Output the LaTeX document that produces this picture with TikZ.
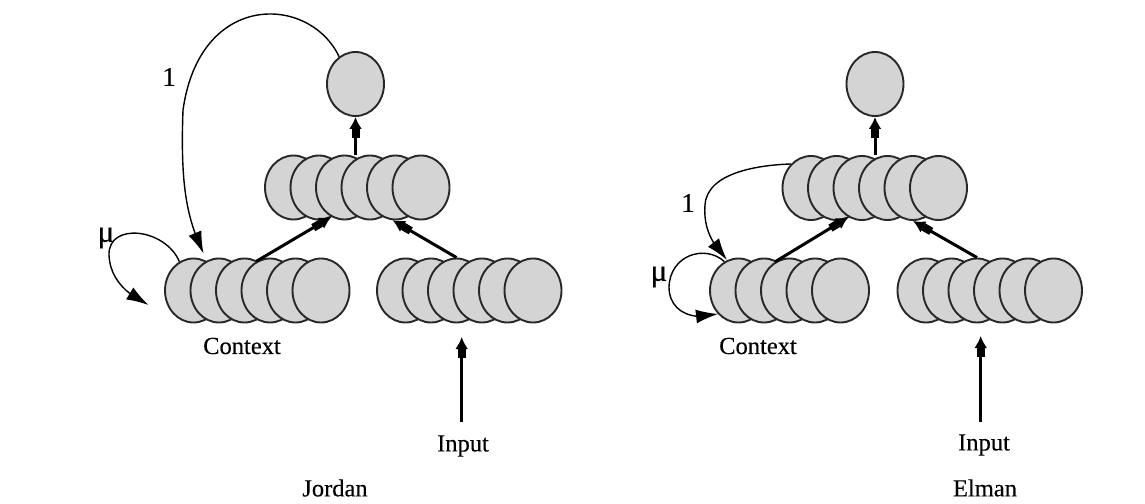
\documentclass[tikz,border=0pt]{standalone}
\usepackage{fontspec}
\setmainfont{Liberation Serif}
\newfontfamily\lblfont[FakeBold=0.3]{Liberation Serif}
\usetikzlibrary{arrows.meta,shapes.geometric,bending}
\definecolor{cellfill}{RGB}{212,212,212}
\definecolor{cellline}{RGB}{40,40,40}
\tikzset{
  cell/.style={ellipse,draw=cellline,fill=cellfill,line width=1.9pt,minimum width=57pt,minimum height=64pt,inner sep=0pt},
  lbl/.style={font=\lblfont\fontsize{24.5}{28}\selectfont,inner sep=0pt},
  numlbl/.style={font=\lblfont\fontsize{27}{30}\selectfont,inner sep=0pt},
  mulbl/.style={font=\lblfont\fontsize{31}{34}\selectfont,inner sep=0pt},
  thickarr/.style={draw=black,line width=3pt,-{Rectangle[length=9pt,width=8pt] Latex[length=12pt,width=13pt]}},
  thinarr/.style={draw=black,line width=1.4pt,-{Latex[length=22pt,width=14pt]}},
}
\begin{document}
\begin{tikzpicture}[x=1pt,y=-1pt]
\useasboundingbox (0,0) rectangle (1145,503);
% ---------------- Jordan ----------------
\node[cell] (jo) at (355.5,84) {};
\foreach \i in {1,...,6} \node[cell] (jh\i) at ({293.5+25.5*(\i-1)},187.5) {};
\foreach \i in {1,...,6} \node[cell] (jc\i) at ({193.5+25.5*(\i-1)},290.5) {};
\foreach \i in {1,...,6} \node[cell] (ji\i) at ({405.5+25.5*(\i-1)},290.5) {};
\node[lbl] (jctx) at (242,346) {Context};
\node[lbl] (jin) at (463,446) {Input};
\node[lbl] (jname) at (335,488) {Jordan};
\node[numlbl] (jone) at (169,77) {1};
\node[mulbl] (jmu) at (106,238) {μ};
\coordinate (jintail) at (461.7,421.7);
\coordinate (jintip) at (461.7,337);
\coordinate (jonetip) at (203.5,253.5);
\coordinate (jmutip) at (148.5,305);
\draw[thickarr] (jo.south |- jh3.north) -- (jo.south);
\draw[thickarr] (jc4.115) -- (jh3.-114);
\draw[thickarr] (ji3.north) -- (jh5.-95);
\draw[thickarr] (jintail) -- (jintip);
\draw[thinarr] (jo.121) .. controls (310,-5) and (200,-10) .. (183,110)
   .. controls (180,190) and (188,220) .. (jonetip);
\draw[thinarr] (jc1.116) .. controls (165,228) and (108,222) .. (109,255)
   .. controls (110,280) and (128,295) .. (jmutip);
% ---------------- Elman ----------------
\node[cell] (eo) at (875,84) {};
\foreach \i in {1,...,6} \node[cell] (eh\i) at ({811+25.5*(\i-1)},188) {};
\foreach \i in {1,...,5} \node[cell] (ec\i) at ({738.5+25.5*(\i-1)},290.5) {};
\foreach \i in {1,...,6} \node[cell] (ei\i) at ({926+25.5*(\i-1)},290.5) {};
\node[lbl] (ectx) at (758,346) {Context};
\node[lbl] (ein) at (984,445) {Input};
\node[lbl] (ename) at (985,488) {Elman};
\node[numlbl] (eone) at (688,203) {1};
\node[mulbl] (emu) at (659,277) {μ};
\coordinate (eintail) at (980.7,421.7);
\coordinate (eintip) at (980.7,336);
\coordinate (eonetip) at (727,260);
\coordinate (emutip) at (718,314);
\draw[thickarr] (eo.south |- eh3.north) -- (eo.south);
\draw[thickarr] (ec3.117) -- (eh3.-115);
\draw[thickarr] (ei3.north) -- (eh5.south);
\draw[thickarr] (eintail) -- (eintip);
\draw[thinarr] (eh1.130) .. controls (760,165) and (707,172) .. (705,205)
   .. controls (703,230) and (714,246) .. (eonetip);
\draw[thinarr] (ec1.116) .. controls (705,244) and (670,255) .. (669,287)
   .. controls (669,310) and (690,322) .. (emutip);
\end{tikzpicture}
\end{document}
